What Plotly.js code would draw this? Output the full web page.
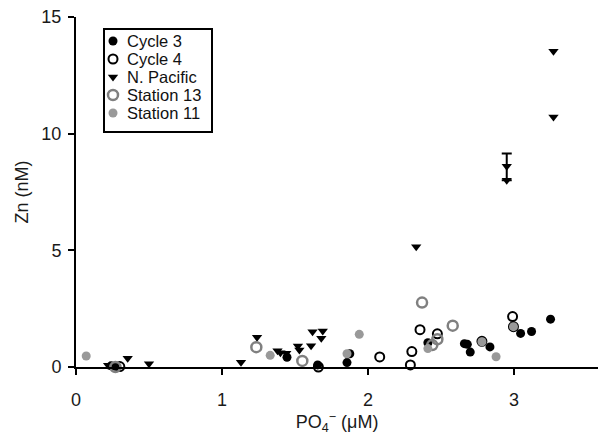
<!DOCTYPE html>
<html>
<head>
<meta charset="utf-8">
<script src="https://cdn.plot.ly/plotly-3.0.1.min.js"></script>
<style>html,body{margin:0;padding:0;background:#fff;}#chart{width:598px;height:441px;}</style>
</head>
<body>
<div id="chart"></div>
<script>
// Data
const cycle3X = [0.24, 0.27, 1.445, 1.655, 1.875, 1.856, 2.41, 2.66, 2.68, 2.70, 2.835, 3.045, 3.12, 3.25];
const cycle3Y = [0.05, 0.03, 0.42, 0.09, 0.57, 0.19, 1.04, 1.0, 0.97, 0.64, 0.86, 1.44, 1.52, 2.05];

const cycle4X = [0.30, 1.66, 2.08, 2.29, 2.30, 2.356, 2.475, 2.78, 2.99, 2.996];
const cycle4Y = [0.02, 0.0, 0.43, 0.09, 0.66, 1.6, 1.42, 1.1, 2.16, 1.73];

const pacificX = [0.22, 0.354, 0.5, 1.13, 1.24, 1.38, 1.40, 1.44, 1.52, 1.53, 1.61, 1.62, 1.68, 1.69, 2.33, 2.95, 2.95, 3.27, 3.27];
const pacificY = [0.08, 0.37, 0.14, 0.2, 1.27, 0.70, 0.61, 0.59, 0.9, 0.73, 0.91, 1.51, 1.23, 1.54, 5.15, 8.6, 8.0, 10.71, 13.53];
// the one N. Pacific point carrying an error bar
const pacificErrX = [2.95];
const pacificErrY = [8.6];
const pacificErrPlus = [0.55];
const pacificErrMinus = [0.6];

const st13X = [0.27, 1.235, 1.55, 2.37, 2.44, 2.475, 2.58];
const st13Y = [0.0, 0.85, 0.26, 2.76, 0.94, 1.19, 1.77];

const st11X = [0.07, 1.33, 1.856, 1.94, 2.41, 2.78, 2.877, 2.996];
const st11Y = [0.47, 0.5, 0.57, 1.4, 0.79, 1.08, 0.44, 1.73];

const seriesNames = ["Cycle 3", "Cycle 4", "N. Pacific", "Station 13", "Station 11"];
const xTicks = [0, 1, 2, 3];
const yTicks = [0, 5, 10, 15];

// styles
const styles = [
  {symbol: 'circle', size: 9, color: '#000'},
  {symbol: 'circle-open', size: 9, color: '#000', line: {width: 2, color: '#000'}},
  {symbol: 'triangle-down', size: 9, color: '#000'},
  {symbol: 'circle-open', size: 10, color: '#808080', line: {width: 2.5, color: '#808080'}},
  {symbol: 'circle', size: 9, color: '#999'}
];

const traces = [
  {x: cycle3X, y: cycle3Y, name: seriesNames[0], type: 'scatter', mode: 'markers', cliponaxis: false, marker: styles[0]},
  {x: cycle4X, y: cycle4Y, name: seriesNames[1], type: 'scatter', mode: 'markers', cliponaxis: false, marker: styles[1]},
  {x: pacificErrX, y: pacificErrY, name: seriesNames[2] + ' error', type: 'scatter', mode: 'markers', cliponaxis: false,
   marker: {size: 1, color: 'rgba(0,0,0,0)'},
   error_y: {type: 'data', symmetric: false, array: pacificErrPlus, arrayminus: pacificErrMinus,
             color: '#000', thickness: 2, width: 5}},
  {x: pacificX, y: pacificY, name: seriesNames[2], type: 'scatter', mode: 'markers', cliponaxis: false, marker: styles[2]},
  {x: st13X, y: st13Y, name: seriesNames[3], type: 'scatter', mode: 'markers', cliponaxis: false, marker: styles[3]},
  {x: st11X, y: st11Y, name: seriesNames[4], type: 'scatter', mode: 'markers', cliponaxis: false, marker: styles[4]}
];

// Custom legend, laid out on an overlay axis measured in pixels
const L = 76, R = 598, T = 17, B = 367;
const legLeft = 104, legTop = 29, legRight = 212, legBottom = 132;
const rowY0 = 41, rowStep = 18, markX = 113, textX = 125;

const annotations = [];
seriesNames.forEach((nm, i) => {
  traces.push({x: [markX], y: [rowY0 + i * rowStep], xaxis: 'x2', yaxis: 'y2', type: 'scatter', mode: 'markers',
               cliponaxis: false, marker: styles[i], hoverinfo: 'skip'});
  annotations.push({x: textX, y: rowY0 + i * rowStep, xref: 'x2', yref: 'y2', text: nm, showarrow: false,
                    xanchor: 'left', yanchor: 'middle', font: {size: 16.5, color: '#111'}});
});

const fontFam = '"Liberation Sans", Arial, sans-serif';
const layout = {
  width: 598, height: 441,
  margin: {l: L, r: 598 - R, t: T, b: 441 - B},
  paper_bgcolor: '#fff', plot_bgcolor: '#fff',
  font: {family: fontFam, size: 18, color: '#1a1a1a'},
  showlegend: false,
  annotations: annotations,
  shapes: [{type: 'rect', xref: 'x2', yref: 'y2', x0: legLeft, x1: legRight, y0: legTop, y1: legBottom,
            line: {color: '#000', width: 2}, fillcolor: 'rgba(0,0,0,0)'}],
  xaxis: {range: [0, 3.575], tickvals: xTicks, ticktext: xTicks.map(String),
          showgrid: false, zeroline: false, showline: true, linecolor: '#000', linewidth: 2,
          ticks: 'outside', ticklen: 6, tickwidth: 2, tickcolor: '#000', ticklabelstandoff: 9,
          tickfont: {size: 18, color: '#1a1a1a'},
          title: {text: 'PO<sub>4</sub><sup>−</sup> (μM)', font: {size: 18, color: '#1a1a1a'}, standoff: 7}},
  yaxis: {range: [0, 15], tickvals: yTicks, ticktext: yTicks.map(String),
          showgrid: false, zeroline: false, showline: true, linecolor: '#000', linewidth: 2,
          ticks: 'outside', ticklen: 6, tickwidth: 2, tickcolor: '#000', ticklabelstandoff: 3,
          tickfont: {size: 18, color: '#1a1a1a'},
          title: {text: 'Zn (nM)', font: {size: 18, color: '#1a1a1a'}, standoff: 8}},
  xaxis2: {overlaying: 'x', range: [L, R], visible: false, fixedrange: true},
  yaxis2: {overlaying: 'y', range: [B, T], visible: false, fixedrange: true}
};

Plotly.newPlot('chart', traces, layout, {displayModeBar: false, staticPlot: true});
</script>
</body>
</html>
